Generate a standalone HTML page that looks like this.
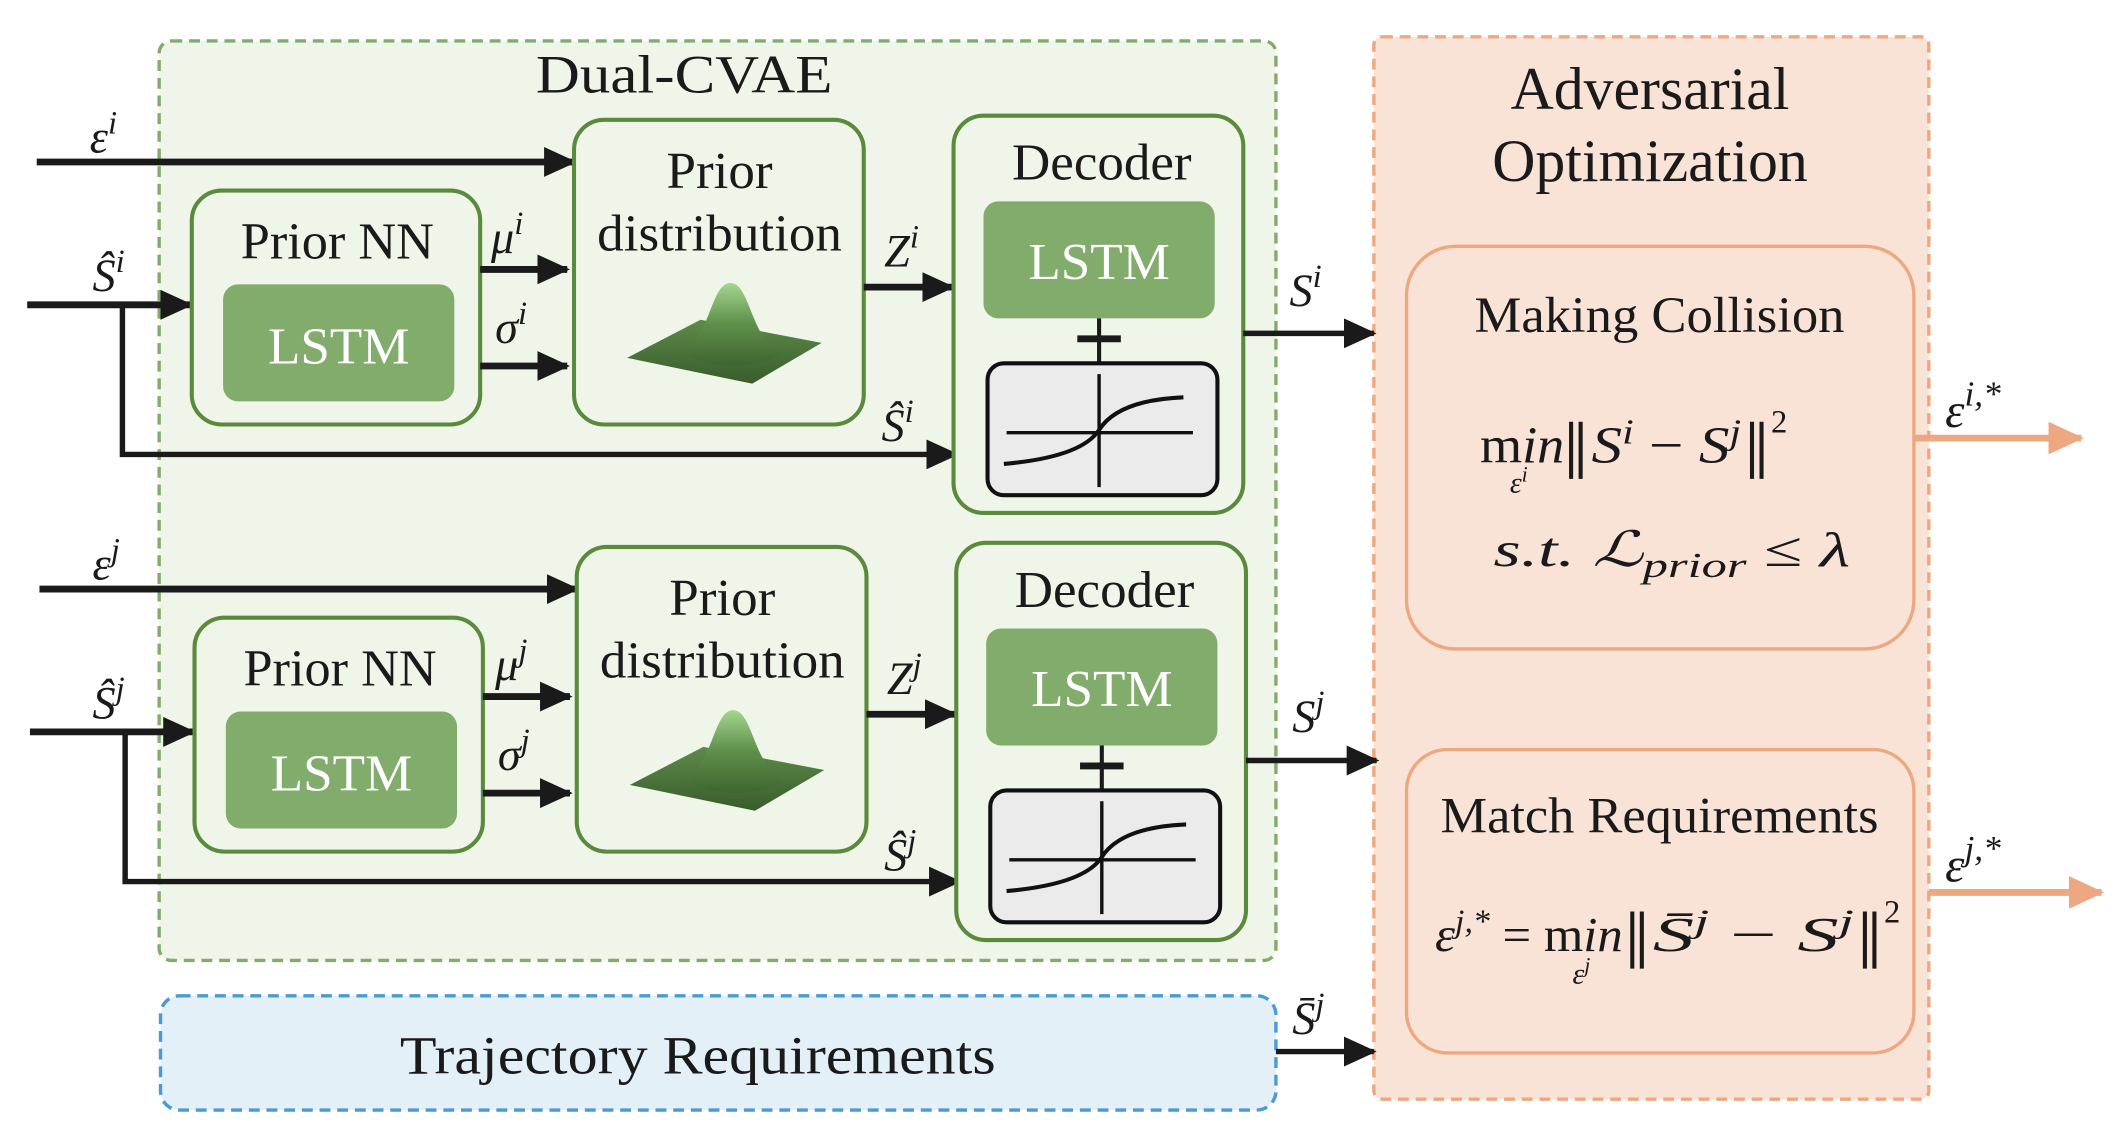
<!DOCTYPE html>
<html><head><meta charset="utf-8"><style>
html,body{margin:0;padding:0;background:#fff}
svg{display:block}
text{font-family:"Liberation Serif","Times New Roman",serif;fill:#1a1a1a}
.it{font-style:italic}
</style></head><body>
<svg width="2122" height="1136" viewBox="0 0 1560 835" xmlns="http://www.w3.org/2000/svg" font-family="Liberation Serif, serif">
<defs>
<marker id="ahb" markerWidth="24" markerHeight="22" refX="22" refY="11" orient="auto" markerUnits="userSpaceOnUse"><path d="M0,0 L24,11 L0,22 z" fill="#1a1a1a"/></marker>
<marker id="aho" markerWidth="26" markerHeight="24" refX="24" refY="12" orient="auto" markerUnits="userSpaceOnUse"><path d="M0,0 L26,12 L0,24 z" fill="#eda882"/></marker>
<linearGradient id="gpk" x1="0" y1="0" x2="0" y2="1"><stop offset="0" stop-color="#a4d690"/><stop offset="0.5" stop-color="#5e8f4a"/><stop offset="1" stop-color="#3e6530"/></linearGradient>
<linearGradient id="gbs" x1="0" y1="0" x2="0" y2="1"><stop offset="0" stop-color="#5d8b4a"/><stop offset="1" stop-color="#395c2c"/></linearGradient>
<g id="row">
  <line x1="27" y1="119" x2="422" y2="119" stroke="#1a1a1a" stroke-width="5" marker-end="url(#ahb)"/>
  <line x1="20" y1="224" x2="140" y2="224" stroke="#1a1a1a" stroke-width="5" marker-end="url(#ahb)"/>
  <polyline points="90,224 90,334 703,334" fill="none" stroke="#1a1a1a" stroke-width="4" marker-end="url(#ahb)"/>
  <rect x="141" y="140" width="212" height="172" rx="22" fill="#f0f5ea" stroke="#5a8a3c" stroke-width="3"/>
  <text x="248" y="190" font-size="38" text-anchor="middle" textLength="142" lengthAdjust="spacingAndGlyphs">Prior NN</text>
  <rect x="164" y="209" width="170" height="86" rx="11" fill="#82ac6c"/>
  <text x="249" y="267" font-size="38" text-anchor="middle" style="fill:#fff" textLength="104" lengthAdjust="spacingAndGlyphs">LSTM</text>
  <line x1="353" y1="198" x2="417" y2="198" stroke="#1a1a1a" stroke-width="5" marker-end="url(#ahb)"/>
  <line x1="353" y1="269" x2="417" y2="269" stroke="#1a1a1a" stroke-width="5" marker-end="url(#ahb)"/>
  <rect x="422" y="88" width="213" height="224" rx="22" fill="#f0f5ea" stroke="#5a8a3c" stroke-width="3"/>
  <text x="529" y="138" font-size="38" text-anchor="middle" textLength="78" lengthAdjust="spacingAndGlyphs">Prior</text>
  <text x="529" y="184" font-size="38" text-anchor="middle" textLength="180" lengthAdjust="spacingAndGlyphs">distribution</text>
  <polygon points="461,263 515,235 604,252 553,282" fill="url(#gbs)"/>
  <path d="M500,258 C522,252 522,208 537,208 C552,208 552,252 576,260 C555,272 520,272 500,258 z" fill="url(#gpk)"/>
  <line x1="635" y1="211" x2="700" y2="211" stroke="#1a1a1a" stroke-width="5" marker-end="url(#ahb)"/>
  <rect x="701" y="85" width="213" height="292" rx="22" fill="#f0f5ea" stroke="#5a8a3c" stroke-width="3"/>
  <text x="810" y="132" font-size="38" text-anchor="middle" textLength="132" lengthAdjust="spacingAndGlyphs">Decoder</text>
  <rect x="723" y="148" width="170" height="86" rx="11" fill="#82ac6c"/>
  <text x="808" y="205" font-size="38" text-anchor="middle" style="fill:#fff" textLength="104" lengthAdjust="spacingAndGlyphs">LSTM</text>
  <line x1="808" y1="234" x2="808" y2="268" stroke="#1a1a1a" stroke-width="3"/>
  <line x1="792" y1="249" x2="824" y2="249" stroke="#1a1a1a" stroke-width="5"/>
  <rect x="726" y="267" width="169" height="97" rx="12" fill="#ebebeb" stroke="#111" stroke-width="3"/>
  <line x1="808" y1="275" x2="808" y2="358" stroke="#111" stroke-width="2.5"/>
  <line x1="740" y1="318" x2="877" y2="318" stroke="#111" stroke-width="2.5"/>
  <path d="M738,341 Q795,336 808,316 Q822,294 870,292" fill="none" stroke="#111" stroke-width="3"/>
  <line x1="914" y1="245" x2="1010" y2="245" stroke="#1a1a1a" stroke-width="4" marker-end="url(#ahb)"/>
</g>
</defs>

<rect x="117" y="30" width="821" height="676" rx="9" fill="#f0f5ea" stroke="#82ac6c" stroke-width="2.5" stroke-dasharray="8,5"/>
<rect x="118" y="732" width="820" height="84" rx="14" fill="#e4f0f8" stroke="#4a9ad4" stroke-width="2.5" stroke-dasharray="8,5"/>
<rect x="1010" y="27" width="408" height="781" rx="6" fill="#f9e3d6" stroke="#eda882" stroke-width="2.5" stroke-dasharray="8,5"/>

<text x="503" y="68" font-size="40" text-anchor="middle" textLength="218" lengthAdjust="spacingAndGlyphs">Dual-CVAE</text>
<text x="513" y="789" font-size="40" text-anchor="middle" textLength="438" lengthAdjust="spacingAndGlyphs">Trajectory Requirements</text>

<use href="#row"/>
<use href="#row" transform="translate(2,314)"/>

<text x="66" y="112" font-size="34" class="it">ε<tspan font-size="24" dy="-14">i</tspan></text>
<text x="68" y="214" font-size="34" class="it">Ŝ<tspan font-size="24" dy="-14">i</tspan></text>
<text x="361" y="186" font-size="34" class="it">μ<tspan font-size="24" dy="-14">i</tspan></text>
<text x="364" y="252" font-size="34" class="it">σ<tspan font-size="24" dy="-14">i</tspan></text>
<text x="650" y="196" font-size="34" class="it">Z<tspan font-size="24" dy="-14">i</tspan></text>
<text x="648" y="324" font-size="34" class="it">Ŝ<tspan font-size="24" dy="-14">i</tspan></text>
<text x="948" y="225" font-size="34" class="it">S<tspan font-size="24" dy="-14">i</tspan></text>
<text x="68" y="426" font-size="34" class="it">ε<tspan font-size="24" dy="-14">j</tspan></text>
<text x="68" y="528" font-size="34" class="it">Ŝ<tspan font-size="24" dy="-14">j</tspan></text>
<text x="364" y="500" font-size="34" class="it">μ<tspan font-size="24" dy="-14">j</tspan></text>
<text x="366" y="566" font-size="34" class="it">σ<tspan font-size="24" dy="-14">j</tspan></text>
<text x="652" y="510" font-size="34" class="it">Z<tspan font-size="24" dy="-14">j</tspan></text>
<text x="650" y="640" font-size="34" class="it">Ŝ<tspan font-size="24" dy="-14">j</tspan></text>
<text x="950" y="538" font-size="34" class="it">S<tspan font-size="24" dy="-14">j</tspan></text>

<line x1="938" y1="773" x2="1010" y2="773" stroke="#1a1a1a" stroke-width="4" marker-end="url(#ahb)"/>
<text x="950" y="760" font-size="34" class="it">S̄<tspan font-size="24" dy="-14">j</tspan></text>

<text x="1213" y="80" font-size="44" text-anchor="middle" textLength="205" lengthAdjust="spacingAndGlyphs">Adversarial</text>
<text x="1213" y="133" font-size="44" text-anchor="middle" textLength="232" lengthAdjust="spacingAndGlyphs">Optimization</text>

<rect x="1034" y="181" width="373" height="296" rx="36" fill="none" stroke="#eda882" stroke-width="2.5"/>
<text x="1220" y="244" font-size="37" text-anchor="middle" textLength="272" lengthAdjust="spacingAndGlyphs">Making Collision</text>
<text x="1088" y="340" font-size="38" textLength="62" lengthAdjust="spacingAndGlyphs">m<tspan class="it">in</tspan></text>
<text x="1110" y="362" font-size="22" class="it">ε<tspan font-size="16" dy="-8">i</tspan></text>
<g stroke="#1a1a1a" stroke-width="3"><line x1="1155" y1="310" x2="1155" y2="352"/><line x1="1162" y1="310" x2="1162" y2="352"/><line x1="1288" y1="310" x2="1288" y2="352"/><line x1="1295" y1="310" x2="1295" y2="352"/></g>
<text x="1170" y="340" font-size="38" class="it" textLength="110" lengthAdjust="spacingAndGlyphs">S<tspan font-size="26" dy="-14">i</tspan><tspan font-size="38" dy="14" style="font-style:normal"> − </tspan>S<tspan font-size="26" dy="-14">j</tspan></text>
<text x="1302" y="318" font-size="24">2</text>
<text x="1098" y="416" font-size="36" class="it" textLength="262" lengthAdjust="spacingAndGlyphs">s.t.  ℒ<tspan font-size="26" dy="8">prior</tspan><tspan dy="-8" style="font-style:normal"> ≤ </tspan>λ</text>

<rect x="1034" y="551" width="373" height="223" rx="30" fill="none" stroke="#eda882" stroke-width="2.5"/>
<text x="1220" y="612" font-size="37" text-anchor="middle" textLength="322" lengthAdjust="spacingAndGlyphs">Match Requirements</text>
<text x="1055" y="699" font-size="36" class="it" textLength="138" lengthAdjust="spacingAndGlyphs">ε<tspan font-size="24" dy="-14">j,*</tspan><tspan dy="14" style="font-style:normal"> = </tspan><tspan style="font-style:normal">m</tspan>in</text>
<text x="1156" y="723" font-size="22" class="it">ε<tspan font-size="16" dy="-8">j</tspan></text>
<g stroke="#1a1a1a" stroke-width="3"><line x1="1200" y1="670" x2="1200" y2="712"/><line x1="1207" y1="670" x2="1207" y2="712"/><line x1="1371" y1="670" x2="1371" y2="712"/><line x1="1378" y1="670" x2="1378" y2="712"/></g>
<text x="1215" y="699" font-size="36" class="it" textLength="148" lengthAdjust="spacingAndGlyphs">S̄<tspan font-size="24" dy="-14">j</tspan><tspan font-size="36" dy="14" style="font-style:normal"> − </tspan>S<tspan font-size="24" dy="-14">j</tspan></text>
<text x="1385" y="678" font-size="24">2</text>

<line x1="1408" y1="322" x2="1530" y2="322" stroke="#eda882" stroke-width="5" marker-end="url(#aho)"/>
<text x="1430" y="314" font-size="36" class="it">ε<tspan font-size="26" dy="-16">i,*</tspan></text>
<line x1="1418" y1="656" x2="1545" y2="656" stroke="#eda882" stroke-width="5" marker-end="url(#aho)"/>
<text x="1430" y="648" font-size="36" class="it">ε<tspan font-size="26" dy="-16">j,*</tspan></text>
</svg>
</body></html>
